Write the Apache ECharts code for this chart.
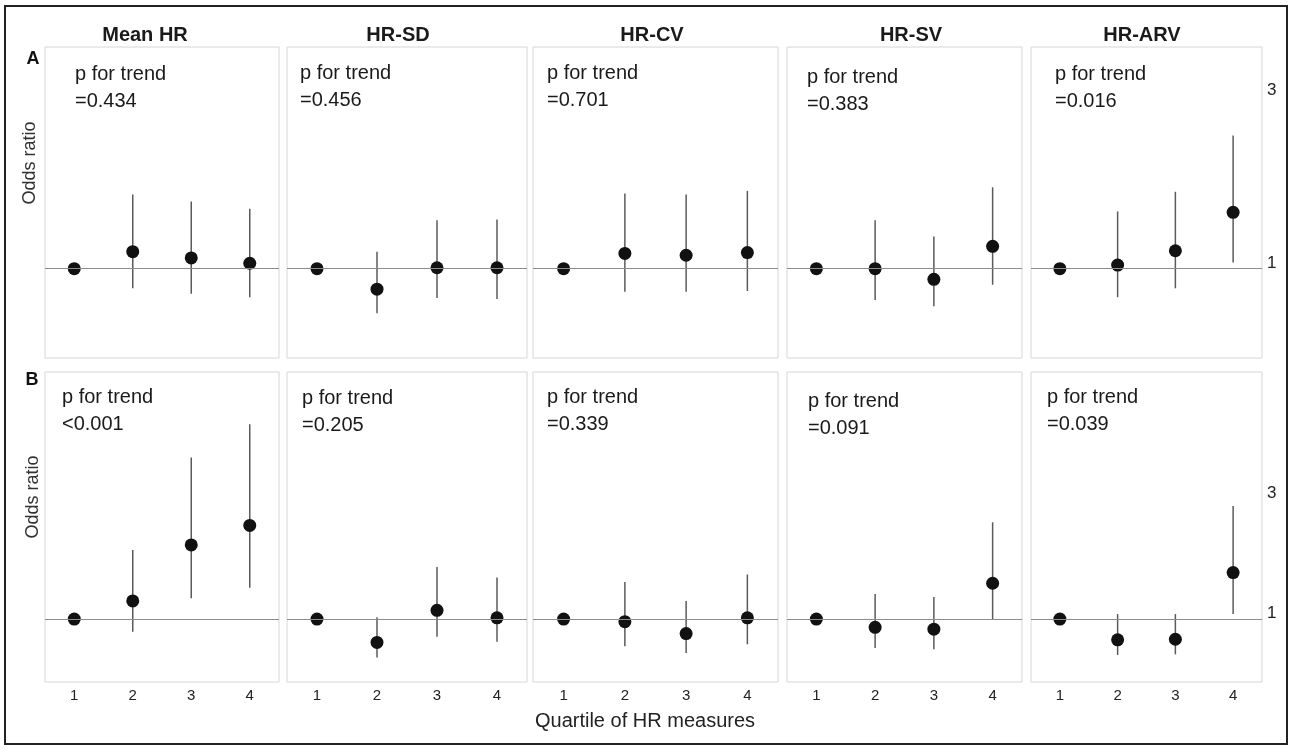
<!DOCTYPE html>
<html>
<head>
<meta charset="utf-8">
<script src="https://cdn.jsdelivr.net/npm/echarts@6/dist/echarts.min.js"></script>
<style>
  html, body { margin: 0; padding: 0; background: #fff; }
  #chart { width: 1292px; height: 752px; }
</style>
</head>
<body>
<div id="chart"></div>
<script>
// data
var quartiles = ['1', '2', '3', '4'];
var measures = ['Mean HR', 'HR-SD', 'HR-CV', 'HR-SV', 'HR-ARV'];
var pTrendA = ['=0.434', '=0.456', '=0.701', '=0.383', '=0.016'];
var pTrendB = ['<0.001', '=0.205', '=0.339', '=0.091', '=0.039'];

// row A: odds ratio + 95% CI per quartile (Q1 = reference)
var orA = [
  [1.0, 1.19, 1.12, 1.06],
  [1.0, 0.77, 1.01, 1.01],
  [1.0, 1.17, 1.15, 1.18],
  [1.0, 1.00, 0.88, 1.25],
  [1.0, 1.04, 1.20, 1.63]
];
var lowerA = [
  [null, 0.78, 0.72, 0.68],
  [null, 0.50, 0.67, 0.66],
  [null, 0.74, 0.74, 0.75],
  [null, 0.65, 0.58, 0.82],
  [null, 0.68, 0.78, 1.07]
];
var upperA = [
  [null, 1.83, 1.75, 1.67],
  [null, 1.19, 1.54, 1.55],
  [null, 1.84, 1.83, 1.87],
  [null, 1.54, 1.36, 1.91],
  [null, 1.64, 1.86, 2.49]
];

// row B
var orB = [
  [1.0, 1.29, 2.18, 2.49],
  [1.0, 0.63, 1.14, 1.02],
  [1.0, 0.96, 0.77, 1.02],
  [1.0, 0.87, 0.84, 1.57],
  [1.0, 0.67, 0.68, 1.74]
];
var lowerB = [
  [null, 0.80, 1.33, 1.50],
  [null, 0.39, 0.72, 0.64],
  [null, 0.57, 0.46, 0.60],
  [null, 0.54, 0.52, 0.99],
  [null, 0.43, 0.44, 1.08]
];
var upperB = [
  [null, 2.10, 3.57, 4.10],
  [null, 1.03, 1.83, 1.66],
  [null, 1.59, 1.29, 1.71],
  [null, 1.40, 1.35, 2.54],
  [null, 1.08, 1.08, 2.80]
];

// layout
var FONT = '"Liberation Sans", Arial, sans-serif';
var panelLeft = [45, 287, 533, 787, 1031];
var panelRight = [279, 527, 778, 1022, 1262];
var rows = [
  { top: 47, height: 311, max: 3.48, or: orA, lo: lowerA, hi: upperA, p: pTrendA,
    px: [75, 300, 547, 807, 1055], py: [74, 73, 73, 77, 74] },
  { top: 372, height: 310, max: 4.93, or: orB, lo: lowerB, hi: upperB, p: pTrendB,
    px: [62, 302, 547, 808, 1047], py: [397, 398, 397, 401, 397] }
];
var titleX = [145, 398, 652, 911, 1142];

var grids = [], xAxes = [], yAxes = [], series = [], graphics = [];

rows.forEach(function (row, r) {
  for (var k = 0; k < 5; k++) {
    var idx = grids.length;
    var last = k === 4;
    grids.push({
      left: panelLeft[k], top: row.top,
      width: panelRight[k] - panelLeft[k], height: row.height,
      show: true, borderColor: '#d6d6d6', borderWidth: 1, backgroundColor: '#fff'
    });
    xAxes.push({
      type: 'category', gridIndex: idx, data: quartiles,
      boundaryGap: true,
      axisLine: { show: false }, axisTick: { show: false },
      axisLabel: { show: r === 1, color: '#222', fontSize: 15, fontFamily: FONT, margin: 6 }
    });
    yAxes.push({
      type: 'value', gridIndex: idx, min: 0, max: row.max, interval: 1,
      position: 'right',
      axisLine: { show: false }, axisTick: { show: false }, splitLine: { show: false },
      axisLabel: {
        show: last, color: '#222', fontSize: 17, fontFamily: FONT, margin: 5,
        formatter: function (v) {
          if (v === 3) return '3';
          if (v === 1) return '{one|1}';
          return '';
        },
        rich: { one: { fontSize: 17, fontFamily: FONT, color: '#222', padding: [0, 0, 11, 0] } }
      }
    });

    var bars = [];
    for (var q = 0; q < quartiles.length; q++) {
      if (row.lo[k][q] != null) bars.push([q, row.lo[k][q], row.hi[k][q]]);
    }
    series.push({
      type: 'custom', xAxisIndex: idx, yAxisIndex: idx, z: 2,
      data: bars,
      encode: { x: 0, y: [1, 2] },
      renderItem: function (params, api) {
        var a = api.coord([api.value(0), api.value(1)]);
        var b = api.coord([api.value(0), api.value(2)]);
        return {
          type: 'line',
          shape: { x1: a[0], y1: a[1], x2: b[0], y2: b[1] },
          style: { stroke: '#5a5a5a', lineWidth: 1.5 }
        };
      },
      markLine: {
        silent: true, symbol: ['none', 'none'], label: { show: false },
        lineStyle: { color: '#8c8c8c', width: 1, type: 'solid' },
        data: [{ yAxis: 1 }]
      }
    });
    series.push({
      type: 'scatter', xAxisIndex: idx, yAxisIndex: idx, z: 3,
      data: row.or[k], symbol: 'circle', symbolSize: 13,
      itemStyle: { color: '#111', opacity: 1 }
    });

    // p for trend text
    graphics.push({
      type: 'text', x: row.px[k], y: row.py[k],
      style: { text: 'p for trend', font: '20px ' + FONT, fill: '#1a1a1a', align: 'left', verticalAlign: 'middle' }
    });
    graphics.push({
      type: 'text', x: row.px[k], y: row.py[k] + 27,
      style: { text: row.p[k], font: '20px ' + FONT, fill: '#1a1a1a', align: 'left', verticalAlign: 'middle' }
    });
  }
});

measures.forEach(function (m, k) {
  graphics.push({
    type: 'text', x: titleX[k], y: 35,
    style: { text: m, font: 'bold 20px ' + FONT, fill: '#1a1a1a', align: 'center', verticalAlign: 'middle' }
  });
});

graphics.push(
  { type: 'text', x: 33, y: 59, style: { text: 'A', font: 'bold 18px ' + FONT, fill: '#111', align: 'center', verticalAlign: 'middle' } },
  { type: 'text', x: 32, y: 380, style: { text: 'B', font: 'bold 18px ' + FONT, fill: '#111', align: 'center', verticalAlign: 'middle' } },
  { type: 'text', x: 30, y: 163, rotation: Math.PI / 2, style: { text: 'Odds ratio', font: '18px ' + FONT, fill: '#333', align: 'center', verticalAlign: 'middle' } },
  { type: 'text', x: 33, y: 497, rotation: Math.PI / 2, style: { text: 'Odds ratio', font: '18px ' + FONT, fill: '#333', align: 'center', verticalAlign: 'middle' } },
  { type: 'text', x: 645, y: 721, style: { text: 'Quartile of HR measures', font: '20px ' + FONT, fill: '#222', align: 'center', verticalAlign: 'middle' } },
  { type: 'rect', shape: { x: 5, y: 6, width: 1282, height: 738 }, style: { fill: 'none', stroke: '#222', lineWidth: 2 } }
);

var chart = echarts.init(document.getElementById('chart'));
chart.setOption({
  animation: false,
  backgroundColor: '#fff',
  grid: grids,
  xAxis: xAxes,
  yAxis: yAxes,
  series: series,
  graphic: graphics
});
</script>
</body>
</html>
